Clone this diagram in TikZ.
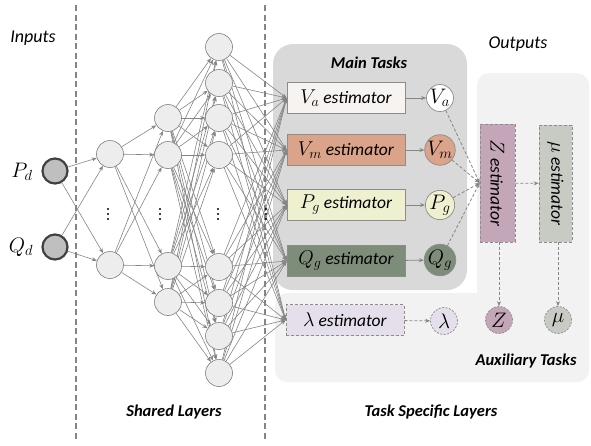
\RequirePackage{fix-cm}
\documentclass[tikz,border=0pt]{standalone}
\usepackage{fontspec}
\setmainfont{Carlito}
\usepackage{graphicx}
\usetikzlibrary{arrows.meta}
\definecolor{linegray}{HTML}{858585}
\definecolor{mainbg}{HTML}{D9D9D9}
\definecolor{auxbg}{HTML}{F2F2F2}
\definecolor{neuronfill}{HTML}{EDEDED}
\definecolor{neurondraw}{HTML}{7F7F7F}
\definecolor{inputfill}{HTML}{BFBFBF}
\definecolor{inputdraw}{HTML}{404040}
\definecolor{vafill}{HTML}{F7F3F1}
\definecolor{vmfill}{HTML}{DBA38A}
\definecolor{pgfill}{HTML}{EEF0D0}
\definecolor{qgfill}{HTML}{7E8C7A}
\definecolor{lamfill}{HTML}{E5DFEC}
\definecolor{zfill}{HTML}{C4A6B9}
\definecolor{mufill}{HTML}{C8CBC4}
\definecolor{boxdraw}{HTML}{8C8C8C}
\pgfdeclarelayer{bg}
\pgfdeclarelayer{edges}
\pgfsetlayers{bg,edges,main}
\newcommand{\bm}[1]{{\fontsize{20}{22}\selectfont$#1$}}
\newcommand{\circtext}[1]{{\fontsize{21}{22}\selectfont$#1$}}
\tikzset{
  neuron/.style={circle, minimum size=27pt, inner sep=0pt, fill=neuronfill, draw=neurondraw, line width=0.6pt},
  inputnode/.style={circle, minimum size=25pt, inner sep=0pt, fill=inputfill, draw=inputdraw, line width=2.2pt},
  netarrow/.style={draw=linegray, line width=0.6pt, -{Stealth[length=5pt,width=4pt]}},
  estbox/.style={rectangle, minimum width=118pt, minimum height=31pt, inner sep=0pt, draw=boxdraw, line width=0.7pt, font=\fontsize{17.5}{20}\selectfont},
  auxbox/.style={estbox, dashed, dash pattern=on 3pt off 2pt},
  outcircle/.style={circle, minimum size=27pt, inner sep=0pt, draw=boxdraw, line width=0.7pt},
  auxcircle/.style={outcircle, dash pattern=on 2pt off 1.5pt},
  solidarrow/.style={draw=linegray, line width=0.8pt, -{Stealth[length=5pt,width=4pt]}},
  dasharrow/.style={draw=linegray, line width=0.8pt, dash pattern=on 3pt off 2pt, -{Stealth[length=5pt,width=4pt]}},
  sepline/.style={draw=linegray, line width=1.3pt, dash pattern=on 6pt off 3.5pt},
  title/.style={font=\fontsize{18}{20}\selectfont\itshape},
  boldtitle/.style={font=\fontsize{16.5}{19}\selectfont\bfseries\itshape},
}
\newcommand{\vdotsat}[2]{\fill[black] (#1,#2-5) circle (1.2pt) (#1,#2) circle (1.2pt) (#1,#2+5) circle (1.2pt);}
\begin{document}
\begin{tikzpicture}[x=1pt,y=-1pt]
\useasboundingbox (0,0) rectangle (591,445);
\begin{pgfonlayer}{bg}
\fill[auxbg, rounded corners=12pt] (477,73) rectangle (589,382);
\fill[auxbg, rounded corners=12pt] (275,293) rectangle (589,382);
\fill[mainbg, rounded corners=20pt] (273,44) rectangle (467,290);
\coordinate (s1t) at (76,5); \coordinate (s1b) at (76,440);
\coordinate (s2t) at (265,5); \coordinate (s2b) at (265,440);
\draw[sepline] (s1t) -- (s1b);
\draw[sepline] (s2t) -- (s2b);
\end{pgfonlayer}
% titles
\node[title] (tin) at (33,38) {Inputs};
\node[title] (tout) at (518,44) {Outputs};
\node[boldtitle] (tmain) at (369,63) {Main Tasks};
\node[boldtitle] (taux) at (526,361) {Auxiliary Tasks};
\node[boldtitle] (ttask) at (431,412) {Task Specific Layers};
\node[boldtitle] (tshared) at (174,412) {Shared Layers};
% inputs
\node[inputnode] (i1) at (55,171) {};
\node[inputnode] (i2) at (55,247) {};
\node[font=\fontsize{21}{23}\selectfont] (lp) at (22,172) {$P_d$};
\node[font=\fontsize{21}{23}\selectfont] (lq) at (21,247) {$Q_d$};
% layer 1
\node[neuron] (a1) at (110,154) {};
\node[neuron] (a2) at (110,265) {};
% layer 2
\node[neuron] (b1) at (168,118) {};
\node[neuron] (b2) at (168,155) {};
\node[neuron] (b3) at (168,266) {};
\node[neuron] (b4) at (168,302) {};
% layer 3
\node[neuron] (c1) at (219,47) {};
\node[neuron] (c2) at (219,83) {};
\node[neuron] (c3) at (219,118) {};
\node[neuron] (c4) at (219,155) {};
\node[neuron] (c5) at (219,267) {};
\node[neuron] (c6) at (219,303) {};
\node[neuron] (c7) at (219,336) {};
\node[neuron] (c8) at (219,373) {};
% dots
\vdotsat{108}{214}
\vdotsat{160}{214}
\vdotsat{218}{214}
\vdotsat{266}{214}
% estimators
\node[estbox, fill=vafill] (e1) at (346,98) {\bm{V_a} \textit{estimator}};
\node[estbox, fill=vmfill] (e2) at (346,150) {\bm{V_m} \textit{estimator}};
\node[estbox, fill=pgfill] (e3) at (346,205) {\bm{P_g} \textit{estimator}};
\node[estbox, fill=qgfill] (e4) at (346,261) {\bm{Q_g} \textit{estimator}};
\node[auxbox, fill=lamfill] (e5) at (345,320) {\bm{\lambda} \textit{estimator}};
% outputs
\node[outcircle, fill=white] (o1) at (440,98) {\circtext{V_a}};
\node[outcircle, fill=vmfill] (o2) at (440,150) {\circtext{V_m}};
\node[outcircle, fill=pgfill] (o3) at (440,205) {\circtext{P_g}};
\node[outcircle, fill=qgfill] (o4) at (440,260) {\circtext{Q_g}};
\node[auxcircle, fill=lamfill] (o5) at (444,321) {\circtext{\lambda}};
% aux estimators
\node[auxbox, fill=zfill, minimum width=35pt, minimum height=118pt] (zest) at (497.5,183) {\rotatebox{-90}{\bm{Z} \textit{estimator}}};
\node[auxbox, fill=mufill, minimum width=33pt, minimum height=117pt] (mest) at (555.5,183.5) {\rotatebox{-90}{\bm{\mu} \textit{estimator}}};
\node[auxcircle, fill=zfill] (zc) at (499,320) {\circtext{Z}};
\node[auxcircle, fill=mufill] (mc) at (558,320) {\circtext{\mu}};
% network connections
\begin{pgfonlayer}{edges}
\foreach \s in {i1,i2} \foreach \t in {a1,a2} \draw[netarrow] (\s) -- (\t);
\foreach \s in {a1,a2} \foreach \t in {b1,b2,b3,b4} \draw[netarrow] (\s) -- (\t);
\foreach \s in {b1,b2,b3,b4} \foreach \t in {c1,c2,c3,c4,c5,c6,c7,c8} \draw[netarrow] (\s) -- (\t);
\foreach \s in {c1,c2,c3,c4,c5,c6,c7,c8} \foreach \t in {e1,e2,e3,e4,e5} \draw[netarrow] (\s) -- (\t.west);
\end{pgfonlayer}
% estimator -> output
\foreach \k in {1,2,3,4} \draw[solidarrow] (e\k) -- (o\k);
\draw[dasharrow] (e5) -- (o5);
\foreach \k in {1,2,3,4} \draw[dasharrow] (o\k) -- (zest.west);
\draw[dasharrow] (zest) -- (mest);
\draw[dasharrow] (zest.south -| zc) -- (zc);
\draw[dasharrow] (mest.south -| mc) -- (mc);
\end{tikzpicture}
\end{document}
